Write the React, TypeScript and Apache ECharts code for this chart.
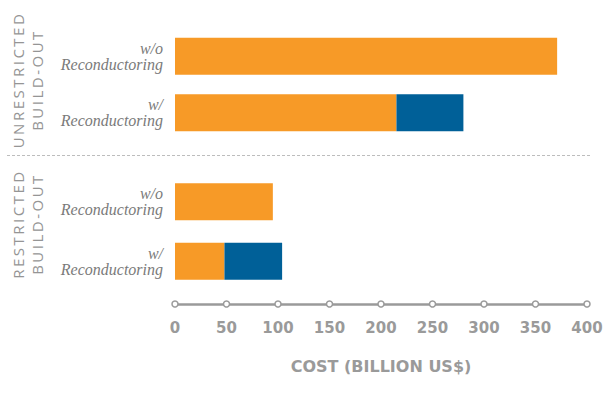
import React, { useEffect, useRef } from "react";
import * as echarts from "echarts";

const groupLabels = ["UNRESTRICTED\nBUILD-OUT", "RESTRICTED\nBUILD-OUT"];
const categories = ["w/o\nReconductoring", "w/\nReconductoring"];
const unrestrictedBase = [371, 215];
const unrestrictedRecond = [0, 65];
const restrictedBase = [95, 48];
const restrictedRecond = [0, 56];
const xTicks = [0, 50, 100, 150, 200, 250, 300, 350, 400];
const axisTitle = "COST (BILLION US$)";

const ORANGE = "#F79A27";
const BLUE = "#006098";
const GREY = "#9a9a9a";

export default function App() {
  const ref = useRef<HTMLDivElement>(null);
  useEffect(() => {
    if (!ref.current) return;
    const chart = echarts.init(ref.current, undefined, { renderer: "svg" });
    const left = 175;
    const right = 23;
    const catLabel = {
      fontFamily: "Liberation Serif",
      fontStyle: "italic" as const,
      fontSize: 16,
      lineHeight: 16,
      color: "#7a7a7a",
      margin: 12,
      align: "right" as const,
    };
    const hiddenX = (gi: number) => ({
      type: "value" as const,
      gridIndex: gi,
      min: 0,
      max: 400,
      interval: 50,
      show: false,
    });
    const catY = (gi: number) => ({
      type: "category" as const,
      gridIndex: gi,
      data: categories,
      inverse: true,
      axisLine: { show: false },
      axisTick: { show: false },
      axisLabel: catLabel,
    });
    const bar = (gi: number, stack: string, data: number[], color: string) => ({
      type: "bar" as const,
      xAxisIndex: gi,
      yAxisIndex: gi,
      stack,
      barWidth: 37,
      data,
      itemStyle: { color },
      silent: true,
    });
    const groupText = (y: number, text: string) => ({
      type: "text" as const,
      x: 27.5,
      y,
      rotation: Math.PI / 2,
      style: {
        text,
        fontFamily: "Open Sans",
        fontSize: 15,
        lineHeight: 19,
        fill: "#959595",
        align: "center",
        verticalAlign: "middle",
      },
      silent: true,
    });
    chart.setOption({
      animation: false,
      grid: [
        { left, right, top: 28, height: 113 },
        { left, right, top: 172, height: 119 },
        { left, right, top: 303, height: 1 },
      ],
      xAxis: [
        hiddenX(0),
        hiddenX(1),
        {
          type: "value",
          gridIndex: 2,
          min: 0,
          max: 400,
          interval: 50,
          position: "bottom",
          axisLine: { show: true, lineStyle: { color: GREY, width: 2.5 } },
          axisTick: { show: false },
          splitLine: { show: false },
          axisLabel: {
            fontFamily: "DejaVu Sans",
            fontWeight: "bold",
            fontSize: 15,
            color: GREY,
            margin: 16,
          },
          name: axisTitle,
          nameLocation: "middle",
          nameGap: 54,
          nameTextStyle: {
            fontFamily: "DejaVu Sans",
            fontWeight: "bold",
            fontSize: 16,
            color: GREY,
          },
        },
      ],
      yAxis: [
        catY(0),
        catY(1),
        { type: "value", gridIndex: 2, min: 0, max: 1, show: false },
      ],
      series: [
        bar(0, "u", unrestrictedBase, ORANGE),
        bar(0, "u", unrestrictedRecond, BLUE),
        bar(1, "r", restrictedBase, ORANGE),
        bar(1, "r", restrictedRecond, BLUE),
        {
          type: "scatter",
          xAxisIndex: 2,
          yAxisIndex: 2,
          data: xTicks.map((t) => [t, 0]),
          symbol: "circle",
          symbolSize: 6,
          clip: false,
          silent: true,
          z: 5,
          itemStyle: { color: "#ffffff", borderColor: GREY, borderWidth: 1.5, opacity: 1 },
        },
      ],
      graphic: [
        {
          type: "line",
          shape: { x1: 7, y1: 155.5, x2: 590, y2: 155.5 },
          style: { stroke: "#bdbdbd", lineWidth: 1, lineDash: [3, 2] },
          silent: true,
        },
        groupText(80, groupLabels[0]),
        groupText(224, groupLabels[1]),
      ],
    });
    const applySpacing = () => {
      const texts = ref.current?.querySelectorAll("text") || [];
      texts.forEach((t) => {
        const s = t.textContent || "";
        if (/^(UNRESTRICTED|RESTRICTED|BUILD-OUT)$/.test(s)) {
          (t as SVGTextElement).style.letterSpacing = "2.5px";
        }
      });
    };
    applySpacing();
    chart.on("finished", applySpacing);
    return () => chart.dispose();
  }, []);
  return (
    <div
      ref={ref}
      style={{ position: "fixed", left: 0, top: 0, width: 610, height: 413, background: "#fff" }}
    />
  );
}
